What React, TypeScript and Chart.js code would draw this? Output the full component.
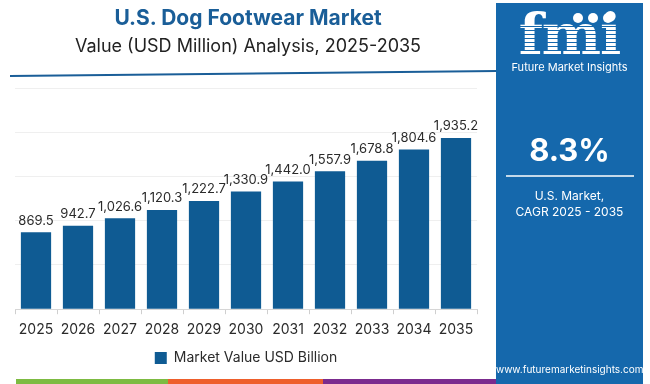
import React, { useEffect, useRef } from "react";
import { Chart, registerables } from "chart.js";

Chart.register(...registerables);

const years = ["2025", "2026", "2027", "2028", "2029", "2030", "2031", "2032", "2033", "2034", "2035"];
const marketValue = [869.5, 942.7, 1026.6, 1120.3, 1222.7, 1330.9, 1442.0, 1557.9, 1678.8, 1804.6, 1935.2];
const seriesName = "Market Value USD Billion";
const yMax = 2500;
const yStep = 500;

const FONT = "Inter, 'Open Sans', sans-serif";
const BAR = "#0f5b93";
const TITLE_BLUE = "#1a5e98";
const PANEL = "#1568ac";

const valueLabels = {
  id: "valueLabels",
  afterDatasetsDraw(chart: any) {
    const ctx = chart.ctx;
    const meta = chart.getDatasetMeta(0);
    ctx.save();
    ctx.font = `13px ${FONT}`;
    ctx.fillStyle = "#2b2b2b";
    ctx.textAlign = "center";
    ctx.textBaseline = "bottom";
    meta.data.forEach((bar: any, i: number) => {
      const v = chart.data.datasets[0].data[i] as number;
      const s = v.toLocaleString("en-US", { minimumFractionDigits: 1, maximumFractionDigits: 1 });
      ctx.fillText(s, bar.x, bar.y - 5);
    });
    ctx.restore();
  },
};

function BarChart() {
  const ref = useRef<HTMLCanvasElement>(null);
  useEffect(() => {
    if (!ref.current) return;
    const chart = new Chart(ref.current, {
      type: "bar",
      data: {
        labels: years,
        datasets: [
          {
            label: seriesName,
            data: marketValue,
            backgroundColor: BAR,
            borderWidth: 0,
            barPercentage: 0.72,
            categoryPercentage: 1,
          },
        ],
      },
      options: {
        animation: false,
        responsive: false,
        maintainAspectRatio: false,
        layout: { padding: { left: 15, right: 19, top: 88, bottom: 9 } },
        plugins: {
          legend: {
            display: true,
            position: "bottom",
            labels: {
              boxWidth: 12,
              boxHeight: 12,
              padding: 6,
              color: "#2b2b2b",
              font: { family: FONT, size: 14 },
            },
          },
          tooltip: { enabled: false },
        },
        scales: {
          x: {
            grid: {
              display: true,
              drawOnChartArea: false,
              drawTicks: true,
              tickLength: 5,
              color: "#cfcfcf",
              offset: true,
            },
            border: { display: true, color: "#d6d6d6" },
            ticks: { color: "#2b2b2b", font: { family: FONT, size: 14 }, padding: 7 },
          },
          y: {
            min: 0,
            max: yMax,
            ticks: { display: false, stepSize: yStep },
            grid: { color: "#efefef", drawTicks: false },
            border: { display: false },
          },
        },
      },
      plugins: [valueLabels],
    });
    return () => chart.destroy();
  }, []);
  return <canvas ref={ref} width={496} height={384} style={{ position: "absolute", left: 0, top: 0 }} />;
}

export default function App() {
  return (
    <div
      style={{
        position: "fixed",
        left: 0,
        top: 0,
        width: 650,
        height: 384,
        background: "#ffffff",
        overflow: "hidden",
        fontFamily: FONT,
      }}
    >
      <BarChart />
      <div
        style={{
          position: "absolute",
          left: 0,
          width: 496,
          top: 5,
          textAlign: "center",
          fontWeight: 700,
          fontSize: 21,
          color: TITLE_BLUE,
        }}
      >
        U.S. Dog Footwear Market
      </div>
      <div
        style={{
          position: "absolute",
          left: 0,
          width: 496,
          top: 35,
          textAlign: "center",
          fontSize: 18,
          color: "#222",
        }}
      >
        Value (USD Million) Analysis, 2025-2035
      </div>
      <svg width={650} height={384} style={{ position: "absolute", left: 0, top: 0, pointerEvents: "none" }}>
        <line x1={10} y1={76} x2={497} y2={71} stroke={TITLE_BLUE} strokeWidth={2} />
        <rect x={16} y={379} width={152} height={5} fill="#7dbb42" />
        <rect x={168} y={379} width={155} height={5} fill="#ee5f2c" />
        <rect x={323} y={379} width={174} height={5} fill="#7b2b8e" />
      </svg>
      <div
        style={{
          position: "absolute",
          left: 496,
          top: 3,
          width: 147,
          height: 381,
          background: PANEL,
          color: "#fff",
          textAlign: "center",
        }}
      >
        <div style={{ position: "absolute", left: 0, width: 147, top: 2, height: 58 }}>
          <div
            style={{
              position: "absolute",
              left: 0,
              width: 147,
              top: 0,
              fontFamily: "'DejaVu Serif', serif",
              fontWeight: 700,
              fontSize: 56,
              lineHeight: "58px",
              letterSpacing: -1,
              color: "#fff",
            }}
          >
            fmi
          </div>
          <div
            style={{
              position: "absolute",
              left: 14,
              width: 119,
              top: 18,
              height: 40,
              background: `repeating-linear-gradient(180deg, transparent 0px, transparent 3px, ${PANEL} 3px, ${PANEL} 4px)`,
            }}
          />
          <div style={{ position: "absolute", left: 77, top: 8, width: 10, height: 10, borderRadius: 5, background: "#fff" }} />
          <div style={{ position: "absolute", left: 92, top: 8, width: 10, height: 10, borderRadius: 5, background: "#fff" }} />
          <div style={{ position: "absolute", left: 107, top: 8, width: 10, height: 10, borderRadius: 5, background: "#fff" }} />
        </div>
        <div style={{ position: "absolute", left: 0, width: 147, top: 57, fontSize: 11, lineHeight: "14px" }}>
          Future Market Insights
        </div>
        <div style={{ position: "absolute", left: 0, width: 147, top: 128, fontSize: 31, fontWeight: 700, lineHeight: "38px" }}>
          8.3%
        </div>
        <div style={{ position: "absolute", left: 10, width: 128, top: 172, height: 2, background: "rgba(255,255,255,0.75)" }} />
        <div style={{ position: "absolute", left: 0, width: 147, top: 185, fontSize: 12, lineHeight: "16px" }}>
          U.S. Market,
          <br />
          CAGR 2025 - 2035
        </div>
        <div style={{ position: "absolute", left: 0, width: 147, top: 360, fontSize: 10, lineHeight: "13px" }}>
          www.futuremarketinsights.com
        </div>
      </div>
    </div>
  );
}
